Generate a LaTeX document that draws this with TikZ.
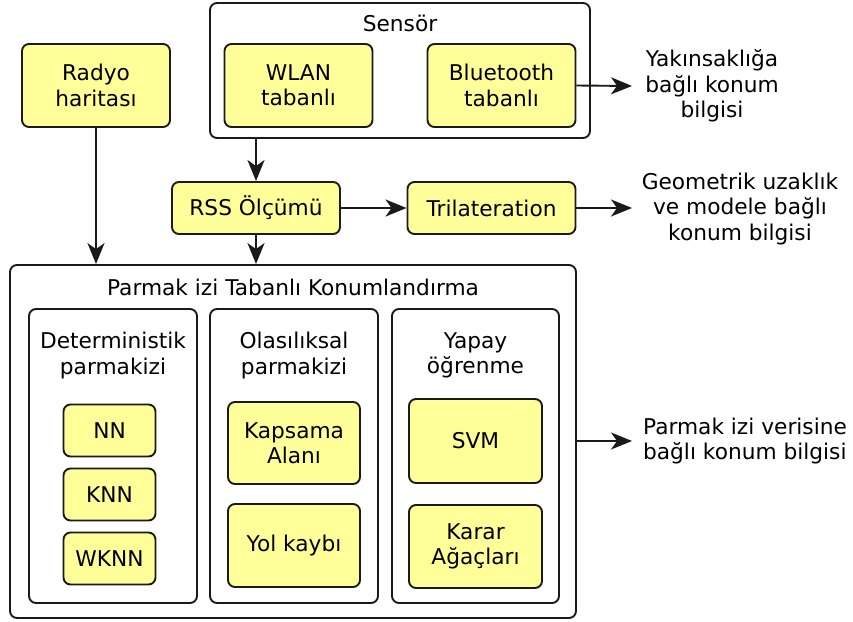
\documentclass[tikz,border=0pt]{standalone}
\usepackage{fontspec}
\setmainfont{DejaVu Sans}
\usetikzlibrary{arrows.meta}
\definecolor{boxyellow}{HTML}{FFFF99}
\definecolor{edge}{HTML}{1A1A1A}
\begin{document}
\begin{tikzpicture}[x=1pt,y=-1pt,
  font=\fontsize{21.7pt}{25.3pt}\selectfont,
  base/.style={draw=edge, line width=1.9pt, rounded corners=7pt, inner sep=0pt},
  ybox/.style={base, fill=boxyellow, align=center},
  frame/.style={base, fill=white},
  txt/.style={align=center, inner sep=0pt},
  conn/.style={draw=edge, line width=1.9pt, -{Stealth[length=21pt,width=17pt,inset=6pt]}}]
\useasboundingbox (0,0) rectangle (853,621);

% sensor group
\node[frame, minimum width=380pt, minimum height=135pt] (sensor) at (400,70.5) {};
\node[txt] (sensorlbl) at (400,23) {Sensör};
\node[ybox, minimum width=148pt, minimum height=83pt] (wlan) at (298.5,85.5) {WLAN\\tabanlı};
\node[ybox, minimum width=148pt, minimum height=83pt] (bt) at (501.5,85.5) {Bluetooth\\tabanlı};

% radio map
\node[ybox, minimum width=148pt, minimum height=83pt] (radyo) at (96,85.5) {Radyo\\haritası};

% RSS and trilateration
\node[ybox, minimum width=168pt, minimum height=52pt] (rss) at (256,208) {RSS Ölçümü};
\node[ybox, minimum width=168pt, minimum height=52pt] (tri) at (491.5,208) {Trilateration};

% fingerprint group
\node[frame, minimum width=566pt, minimum height=353pt] (parmak) at (293,441.5) {};
\node[txt] (parmaklbl) at (293,287) {Parmak izi Tabanlı Konumlandırma};

\node[frame, minimum width=168pt, minimum height=294pt] (det) at (113,456) {};
\node[txt] (detlbl) at (113,355.5) {Deterministik\\parmakizi};
\node[ybox, minimum width=92pt, minimum height=52pt] (nn) at (109.5,430.5) {NN};
\node[ybox, minimum width=92pt, minimum height=52pt] (knn) at (109.5,494.5) {KNN};
\node[ybox, minimum width=92pt, minimum height=52pt] (wknn) at (109.5,558.5) {WKNN};

\node[frame, minimum width=168pt, minimum height=294pt] (ola) at (294,456) {};
\node[txt] (olalbl) at (294,355.5) {Olasılıksal\\parmakizi};
\node[ybox, minimum width=132pt, minimum height=82pt] (kap) at (294,443) {Kapsama\\Alanı};
\node[ybox, minimum width=132pt, minimum height=83pt] (yol) at (294,545.5) {Yol kaybı};

\node[frame, minimum width=167pt, minimum height=294pt] (yap) at (475.5,456) {};
\node[txt] (yaplbl) at (475.5,355.5) {Yapay\\öğrenme};
\node[ybox, minimum width=133pt, minimum height=84pt] (svm) at (475.5,441) {SVM};
\node[ybox, minimum width=133pt, minimum height=83pt] (karar) at (475.5,546.5) {Karar\\Ağaçları};

% outcome labels
\node[txt] (yakin) at (712,86) {Yakınsaklığa\\bağlı konum\\bilgisi};
\node[txt] (geo) at (740,209) {Geometrik uzaklık\\ve modele bağlı\\konum bilgisi};
\node[txt, align=left] (parmakout) at (745,441) {Parmak izi verisine\\bağlı konum bilgisi};
\coordinate (yakinend) at (632,86);
\coordinate (geoend) at (632,208);
\coordinate (parmakend) at (632,441);

% connectors
\draw[conn] (radyo.south) -- (radyo.south |- parmak.north);
\draw[conn] (rss.north |- sensor.south) -- (rss.north);
\draw[conn] (rss.south) -- (rss.south |- parmak.north);
\draw[conn] (rss.east) -- (tri.west);
\draw[conn] (bt.east) -- (yakinend);
\draw[conn] (tri.east) -- (geoend);
\draw[conn] (parmak.east |- parmakend) -- (parmakend);
\end{tikzpicture}
\end{document}
